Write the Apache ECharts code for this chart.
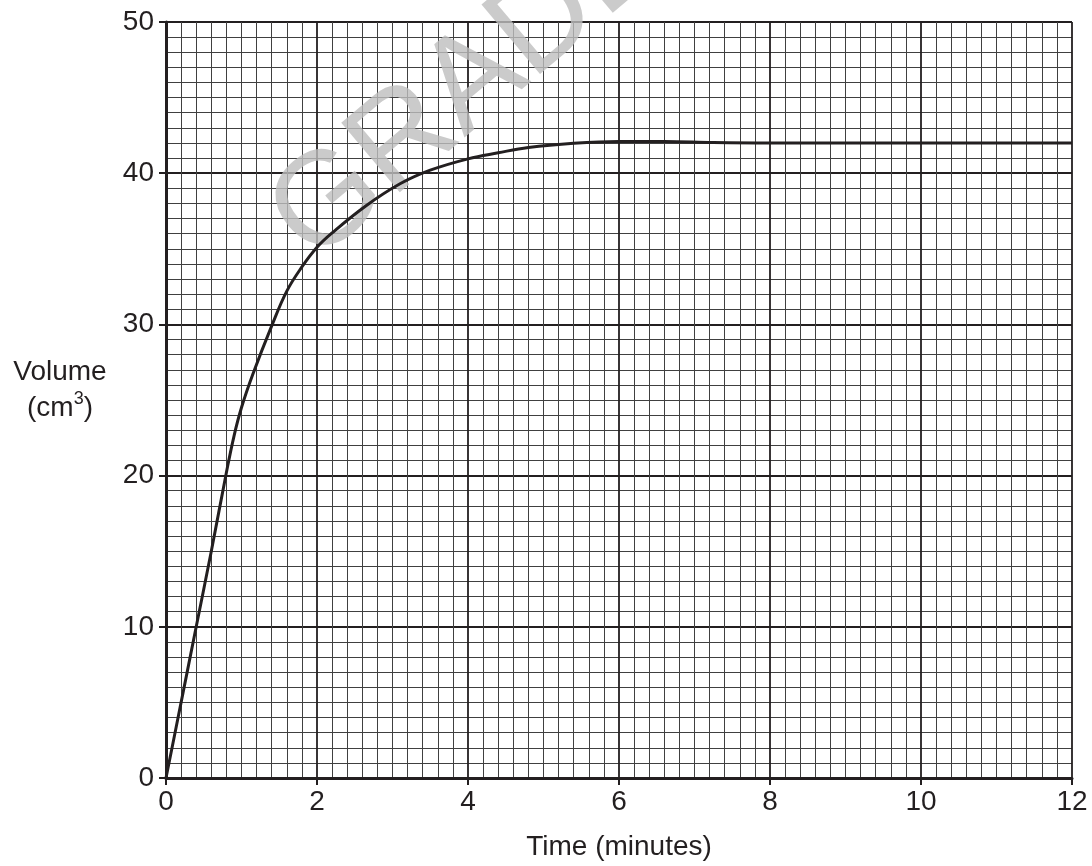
<!DOCTYPE html>
<html>
<head>
<meta charset="utf-8">
<script src="https://cdn.jsdelivr.net/npm/echarts@6/dist/echarts.min.js"></script>
<style>html,body{margin:0;padding:0;background:#fff;overflow:hidden}#c{width:1092px;height:866px}</style>
</head>
<body>
<div id="c"></div>
<script>
const timeMin = [0, 0.2, 0.4, 0.6, 0.8, 0.9, 1.0, 1.15, 1.4, 1.6, 1.8, 2.0, 2.2, 2.65, 3.1, 3.5, 4.0, 4.4, 4.8, 5.4, 6.0, 6.6, 7.25, 8.0, 9.0, 10.0, 11.0, 12.0];
const volume  = [0, 5.0, 10.0, 15.0, 20.2, 22.6, 24.5, 26.7, 29.9, 32.2, 33.8, 35.1, 36.05, 37.85, 39.3, 40.2, 40.95, 41.35, 41.7, 41.98, 42.1, 42.1, 42.03, 42.0, 42.0, 42.0, 42.0, 42.0];
const xTicks = [0, 2, 4, 6, 8, 10, 12];
const yTicks = [0, 10, 20, 30, 40, 50];
const watermark = "GRADE";

const chart = echarts.init(document.getElementById('c'), null, {renderer: 'canvas', width: 1092, height: 866});
const font = '"Liberation Sans", Arial, sans-serif';
chart.setOption({
  animation: false,
  backgroundColor: '#ffffff',
  grid: {left: 166, top: 22, width: 906, height: 760, containLabel: false},
  graphic: [{
    type: 'text', z: 1, silent: true,
    x: 332, y: 288, rotation: 0.7,
    style: {text: watermark, font: '132px ' + font, fill: 'rgba(190,190,190,0.8)', textAlign: 'left', textVerticalAlign: 'bottom'}
  }],
  xAxis: {
    type: 'value', min: 0, max: 12, interval: 2,
    name: 'Time (minutes)', nameLocation: 'middle', nameGap: 55,
    nameTextStyle: {fontFamily: font, fontSize: 28, color: '#231f20'},
    axisLine: {show: true, onZero: false, lineStyle: {color: '#231f20', width: 3}},
    axisTick: {show: true, length: 7, lineStyle: {color: '#231f20', width: 2}},
    axisLabel: {fontFamily: font, fontSize: 28, color: '#231f20', margin: 10,
      formatter: v => xTicks.includes(v) ? String(v) : ''},
    splitLine: {show: true, lineStyle: {color: '#231f20', width: 1.8}},
    minorTick: {show: false, splitNumber: 10},
    minorSplitLine: {show: true, lineStyle: {color: '#404040', width: 1}}
  },
  yAxis: {
    type: 'value', min: 0, max: 50, interval: 10,
    name: 'Volume\n(cm{sup|3})', nameLocation: 'middle', nameRotate: 0, nameGap: 106,
    nameTextStyle: {fontFamily: font, fontSize: 28, color: '#231f20', align: 'center', lineHeight: 36,
      padding: [0, 0, 20, 0],
      rich: {sup: {fontFamily: font, fontSize: 18, color: '#231f20', verticalAlign: 'top', lineHeight: 22}}},
    axisLine: {show: true, onZero: false, lineStyle: {color: '#231f20', width: 3}},
    axisTick: {show: true, length: 7, lineStyle: {color: '#231f20', width: 2}},
    axisLabel: {fontFamily: font, fontSize: 28, color: '#231f20', margin: 12,
      formatter: v => yTicks.includes(v) ? String(v) : ''},
    splitLine: {show: true, lineStyle: {color: '#231f20', width: 1.8}},
    minorTick: {show: false, splitNumber: 10},
    minorSplitLine: {show: true, lineStyle: {color: '#404040', width: 1}}
  },
  series: [{
    type: 'line', z: 5,
    data: timeMin.map((t, i) => [t, volume[i]]),
    smooth: 0.4, showSymbol: false,
    lineStyle: {color: '#231f20', width: 3}
  }]
});
</script>
</body>
</html>
